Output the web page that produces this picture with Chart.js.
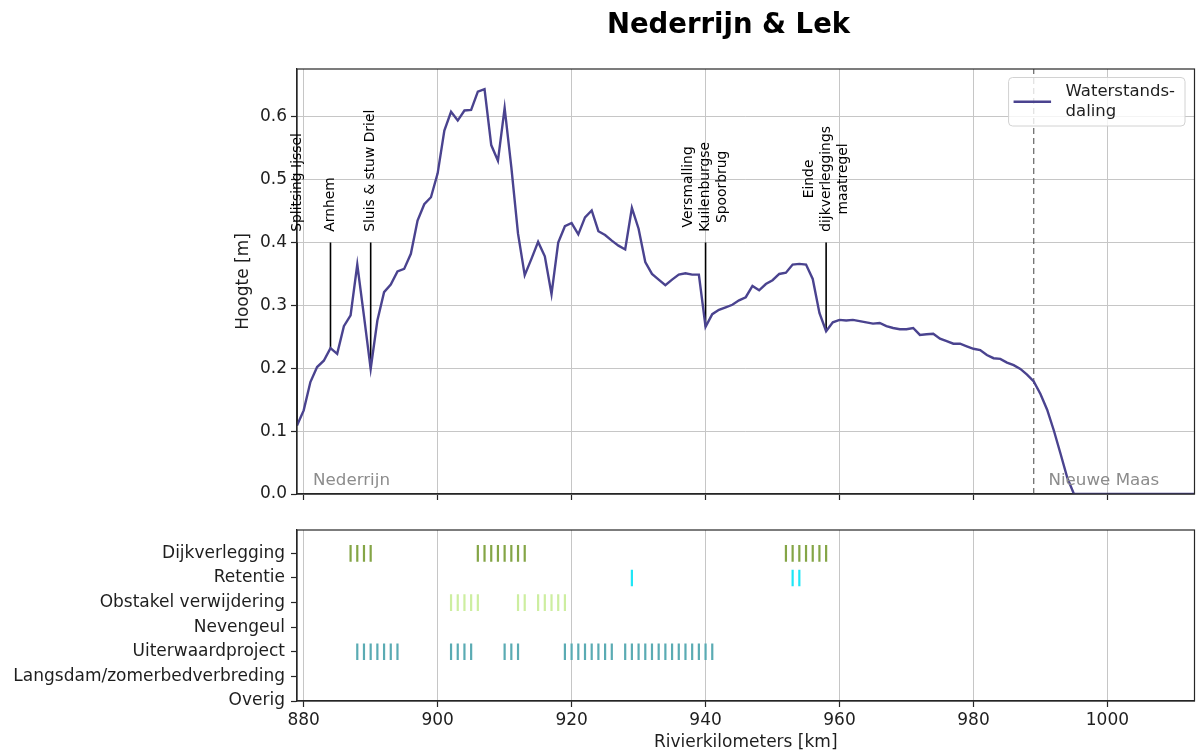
<!DOCTYPE html>
<html>
<head>
<meta charset="utf-8">
<title>Nederrijn &amp; Lek</title>
<script src="https://cdn.jsdelivr.net/npm/chart.js@4.4.1/dist/chart.umd.min.js"></script>
<style>
  html, body { margin: 0; padding: 0; background: #ffffff; }
  #wrap { position: relative; width: 1196px; height: 754px; }
  #wrap canvas { position: absolute; left: 0; top: 0; }
</style>
</head>
<body>
<div id="wrap">
  <canvas id="profile" width="1196" height="754"></canvas>
  <canvas id="measures" width="1196" height="754"></canvas>
</div>
<script>
// ---------- data ----------
const chartTitle = 'Nederrijn & Lek';
const seriesLabel = 'Waterstands-\ndaling';

// river kilometre and water level drop [m]
const riverKm = [
  879, 880, 881, 882, 883, 884, 885, 886, 887, 888, 889, 890,
  891, 892, 893, 894, 895, 896, 897, 898, 899, 900,
  901, 902, 903, 904, 905, 906, 907, 908, 909, 910,
  911, 912, 913, 914, 915, 916, 917, 918, 919, 920,
  921, 922, 923, 924, 925, 926, 927, 928, 929, 930,
  931, 932, 933, 934, 935, 936, 937, 938, 939, 940,
  941, 942, 943, 944, 945, 946, 947, 948, 949, 950,
  951, 952, 953, 954, 955, 956, 957, 958, 959, 960,
  961, 962, 963, 964, 965, 966, 967, 968, 969, 970,
  971, 972, 973, 974, 975, 976, 977, 978, 979, 980,
  981, 982, 983, 984, 985, 986, 987, 988, 989, 990,
  991, 992, 993, 994, 995, 1013
];
const waterLevelDrop = [
  0.109, 0.133, 0.178, 0.202, 0.212, 0.232, 0.223, 0.267, 0.284, 0.365, 0.283, 0.199,
  0.276, 0.321, 0.333, 0.354, 0.358, 0.382, 0.435, 0.461, 0.472, 0.510,
  0.578, 0.608, 0.594, 0.610, 0.611, 0.640, 0.644, 0.555, 0.530, 0.614,
  0.520, 0.414, 0.348, 0.374, 0.401, 0.378, 0.318, 0.400, 0.426, 0.431,
  0.413, 0.440, 0.451, 0.418, 0.412, 0.403, 0.395, 0.389, 0.455, 0.422,
  0.369, 0.350, 0.341, 0.332, 0.341, 0.349, 0.351, 0.349, 0.349, 0.266,
  0.286, 0.293, 0.297, 0.301, 0.308, 0.313, 0.331, 0.324, 0.334, 0.340,
  0.350, 0.352, 0.365, 0.366, 0.365, 0.342, 0.288, 0.259, 0.273, 0.277,
  0.276, 0.277, 0.275, 0.273, 0.271, 0.272, 0.267, 0.264, 0.262, 0.262,
  0.264, 0.253, 0.254, 0.255, 0.247, 0.243, 0.239, 0.239, 0.235, 0.231,
  0.229, 0.221, 0.216, 0.215, 0.209, 0.205, 0.199, 0.190, 0.179, 0.159,
  0.134, 0.101, 0.064, 0.026, 0.000, 0.000
];

const xTicks = [880, 900, 920, 940, 960, 980, 1000];
const yTicks = [0.0, 0.1, 0.2, 0.3, 0.4, 0.5, 0.6];

// landmarks along the river
const landmarkNames = [
  'Splitsing Ijssel',
  'Arnhem',
  'Sluis & stuw Driel',
  'Versmalling\nKuilenburgse\nSpoorbrug',
  'Einde\ndijkverleggings\nmaatregel'
];
const landmarkKm = [879, 884, 890, 940, 958];
const landmarkTop = 0.40;
const landmarkTextBase = 0.417;

// boundary between the two river reaches
const boundaryKm = 989;
const reachNames = ['Nederrijn', 'Nieuwe Maas'];
const reachLabelKm = [881.4, 991.2];
const reachLabelLevel = 0.022;

// measure types, listed top to bottom
const measureTypes = [
  'Dijkverlegging',
  'Retentie',
  'Obstakel verwijdering',
  'Nevengeul',
  'Uiterwaardproject',
  'Langsdam/zomerbedverbreding',
  'Overig'
];
const dijkverleggingKm = [887, 888, 889, 890, 906, 907, 908, 909, 910, 911, 912, 913,
                          952, 953, 954, 955, 956, 957, 958];
const retentieKm = [929, 953, 954];
const obstakelKm = [902, 903, 904, 905, 906, 912, 913, 915, 916, 917, 918, 919];
const nevengeulKm = [];
const uiterwaardKm = [888, 889, 890, 891, 892, 893, 894,
                      902, 903, 904, 905,
                      910, 911, 912,
                      919, 920, 921, 922, 923, 924, 925, 926,
                      928, 929, 930, 931, 932, 933, 934, 935, 936, 937, 938, 939, 940, 941];
const langsdamKm = [];
const overigKm = [];
const measureKm = [dijkverleggingKm, retentieKm, obstakelKm, nevengeulKm,
                   uiterwaardKm, langsdamKm, overigKm];

// ---------- styles ----------
const measureColors = ['#84a546', '#1fe6f6', '#cdeea0', '#6a5acd', '#5aabb3', '#999999', '#999999'];
const FONT = "'DejaVu Sans', 'Liberation Sans', sans-serif";
const INK = '#1e1e1e';
const GRID = '#c6c6c6';
const SPINE = '#262626';
const LINE = '#4a438f';
const X_MIN = 879, X_MAX = 1013, Y_MAX = 0.676;

Chart.defaults.font.family = FONT;
Chart.defaults.color = INK;

function levelAt(km) {
  return waterLevelDrop[riverKm.indexOf(km)];
}

// keep the plot area fixed: no extra room reserved for edge labels
function fixSize(prop, size) {
  return s => {
    s[prop] = size;
    s.paddingLeft = 0; s.paddingRight = 0; s.paddingTop = 0; s.paddingBottom = 0;
  };
}

// frame around the plot area
const frame = {
  id: 'frame',
  afterDatasetsDraw(chart) {
    const a = chart.chartArea, ctx = chart.ctx;
    ctx.save();
    ctx.strokeStyle = SPINE;
    ctx.lineWidth = 1.2;
    ctx.strokeRect(a.left, a.top, a.right - a.left, a.bottom - a.top);
    ctx.restore();
  }
};

// rotated landmark names, reach names, figure title and legend
const decorations = {
  id: 'decorations',
  afterDraw(chart) {
    const ctx = chart.ctx, xs = chart.scales.x, ys = chart.scales.y, a = chart.chartArea;
    ctx.save();

    // landmark names
    ctx.fillStyle = '#000';
    ctx.font = '13.9px ' + FONT;
    const lh = 16.8;
    landmarkNames.forEach((name, i) => {
      const lines = name.split('\n');
      const w = Math.max(...lines.map(l => ctx.measureText(l).width));
      ctx.save();
      ctx.translate(xs.getPixelForValue(landmarkKm[i]), ys.getPixelForValue(landmarkTextBase));
      ctx.rotate(-Math.PI / 2);
      ctx.textAlign = 'center';
      ctx.textBaseline = 'middle';
      lines.forEach((l, j) => {
        ctx.fillText(l, w / 2, (j - (lines.length - 1) / 2) * lh);
      });
      ctx.restore();
    });

    // reach names
    ctx.fillStyle = '#8c8c8c';
    ctx.font = '16.7px ' + FONT;
    ctx.textAlign = 'left';
    ctx.textBaseline = 'middle';
    reachNames.forEach((n, i) => {
      ctx.fillText(n, xs.getPixelForValue(reachLabelKm[i]), ys.getPixelForValue(reachLabelLevel));
    });

    // title
    ctx.fillStyle = '#000';
    ctx.font = 'bold 27.5px ' + FONT;
    ctx.textAlign = 'center';
    ctx.textBaseline = 'middle';
    ctx.fillText(chartTitle, 728.5, 26);

    // legend
    const ds = chart.data.datasets[0];
    const lines = ds.label.split('\n');
    ctx.font = '16.5px ' + FONT;
    const tw = Math.max(...lines.map(l => ctx.measureText(l).width));
    const bw = 57 + tw + 10, bh = 48.5;
    const bx = a.right - 9.5 - bw, by = a.top + 8.5;
    ctx.beginPath();
    ctx.roundRect(bx, by, bw, bh, 4);
    ctx.fillStyle = 'rgba(255,255,255,0.8)';
    ctx.fill();
    ctx.strokeStyle = '#d2d2d2';
    ctx.lineWidth = 1;
    ctx.stroke();
    ctx.beginPath();
    ctx.moveTo(bx + 5, by + bh / 2);
    ctx.lineTo(bx + 42.5, by + bh / 2);
    ctx.strokeStyle = ds.borderColor;
    ctx.lineWidth = ds.borderWidth;
    ctx.stroke();
    ctx.fillStyle = INK;
    ctx.textAlign = 'left';
    ctx.textBaseline = 'middle';
    lines.forEach((l, j) => {
      ctx.fillText(l, bx + 57, by + bh / 2 + (j - (lines.length - 1) / 2) * 20);
    });

    ctx.restore();
  }
};

// ---------- water level profile ----------
const profileDatasets = [
  {
    label: seriesLabel,
    data: riverKm.map((k, i) => ({ x: k, y: waterLevelDrop[i] })),
    borderColor: LINE,
    borderWidth: 2.4,
    showLine: true,
    pointRadius: 0,
    tension: 0
  },
  ...landmarkKm.map((k, i) => ({
    label: landmarkNames[i],
    data: [{ x: k, y: landmarkTop }, { x: k, y: levelAt(k) }],
    borderColor: '#000000',
    borderWidth: 1.6,
    showLine: true,
    pointRadius: 0
  })),
  {
    label: 'Nederrijn | Nieuwe Maas',
    data: [{ x: boundaryKm, y: 0 }, { x: boundaryKm, y: Y_MAX }],
    borderColor: '#555555',
    borderWidth: 1.1,
    borderDash: [6, 4],
    showLine: true,
    pointRadius: 0
  }
];

new Chart(document.getElementById('profile'), {
  type: 'scatter',
  data: { datasets: profileDatasets },
  options: {
    responsive: false,
    animation: false,
    devicePixelRatio: 1,
    layout: { autoPadding: false, padding: { left: 230, top: 69, right: 1.5, bottom: 0 } },
    plugins: { legend: { display: false }, tooltip: { enabled: false }, title: { display: false } },
    scales: {
      x: {
        type: 'linear', min: X_MIN, max: X_MAX,
        afterBuildTicks: s => { s.ticks = xTicks.map(v => ({ value: v })); },
        ticks: { callback: () => '', font: { size: 17 } },
        grid: { color: GRID, lineWidth: 1, tickLength: 6, tickColor: SPINE, tickWidth: 1.2 },
        border: { display: true, color: SPINE, width: 1.2 },
        afterFit: fixSize('height', 260)
      },
      y: {
        type: 'linear', min: 0, max: Y_MAX,
        afterBuildTicks: s => { s.ticks = yTicks.map(v => ({ value: v })); },
        ticks: { callback: v => Number(v).toFixed(1), color: INK, font: { size: 17 }, padding: 4 },
        grid: { color: GRID, lineWidth: 1, tickLength: 6, tickColor: SPINE, tickWidth: 1.2 },
        border: { display: true, color: SPINE, width: 1.2 },
        title: { display: true, text: 'Hoogte [m]', color: INK, font: { size: 17 }, padding: { top: 3, bottom: 0 } },
        afterFit: fixSize('width', 67)
      }
    }
  },
  plugins: [frame, decorations]
});

// ---------- measures per river kilometre ----------
const measureDatasets = measureTypes.map((name, i) => ({
  label: name,
  data: measureKm[i].map(k => ({ x: k, y: measureTypes.length - 1 - i })),
  borderColor: measureColors[i],
  backgroundColor: measureColors[i],
  pointStyle: 'line',
  rotation: 90,
  pointRadius: 8.3,
  pointBorderWidth: 2.2,
  borderWidth: 2.2,
  showLine: false
}));

new Chart(document.getElementById('measures'), {
  type: 'scatter',
  data: { datasets: measureDatasets },
  options: {
    responsive: false,
    animation: false,
    devicePixelRatio: 1,
    layout: { autoPadding: false, padding: { left: 0, top: 530, right: 1.5, bottom: 0 } },
    plugins: { legend: { display: false }, tooltip: { enabled: false } },
    scales: {
      x: {
        type: 'linear', min: X_MIN, max: X_MAX,
        afterBuildTicks: s => { s.ticks = xTicks.map(v => ({ value: v })); },
        ticks: { callback: v => String(v), color: INK, font: { size: 17 }, padding: 3 },
        grid: { color: GRID, lineWidth: 1, tickLength: 6, tickColor: SPINE, tickWidth: 1.2 },
        border: { display: true, color: SPINE, width: 1.2 },
        title: { display: true, text: 'Rivierkilometers [km]', color: INK, font: { size: 17 }, padding: { top: 0, bottom: 1 } },
        afterFit: fixSize('height', 53)
      },
      y: {
        type: 'linear', min: 0, max: 6.95,
        afterBuildTicks: s => { s.ticks = measureTypes.map((_, i) => ({ value: i })); },
        ticks: { callback: v => measureTypes[measureTypes.length - 1 - v], color: INK, font: { size: 17 }, padding: 6 },
        grid: { drawOnChartArea: false, tickLength: 6, tickColor: SPINE, tickWidth: 1.2 },
        border: { display: true, color: SPINE, width: 1.2 },
        afterFit: fixSize('width', 297)
      }
    }
  },
  plugins: [frame]
});
</script>
</body>
</html>
